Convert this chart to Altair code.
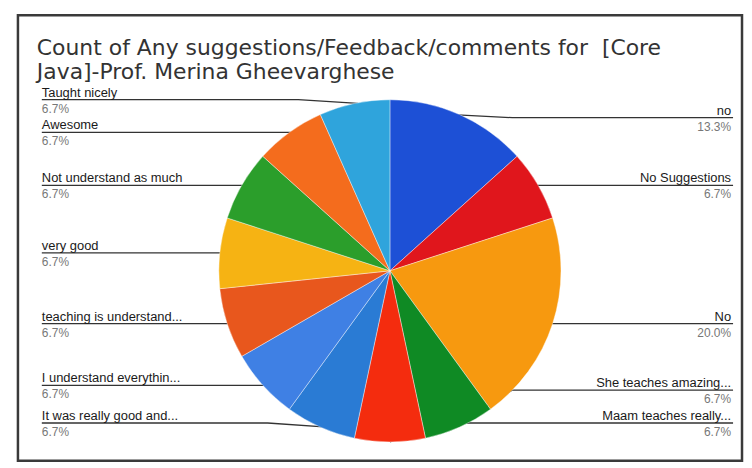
import math
import altair as alt
import pandas as pd

# ---------------- data ----------------
labels = [
    "no", "No Suggestions", "No", "She teaches amazing...", "Maam teaches really...",
    "It was really good and...", "I understand everythin...", "teaching is understand...",
    "very good", "Not understand as much", "Awesome", "Taught nicely",
]
counts = [2, 1, 3, 1, 1, 1, 1, 1, 1, 1, 1, 1]
colors = [
    "#1d50d6", "#e0161c", "#f7990f", "#0f8a24", "#f42c0e", "#2a7bd4",
    "#3f80e4", "#e8571d", "#f6b313", "#2b9e2b", "#f46c1d", "#2fa4dc",
]
title_lines = ["Count of Any suggestions/Feedback/comments for \u00a0[Core",
               "Java]-Prof. Merina Gheevarghese"]

# ---------------- layout (page pixels) ----------------
VX, VY = 16, 12          # view origin on page
W, H = 728, 448
CX, CY, R = 390, 269, 172
TOP, BOT, GAP = 115, 422, 33
LEFT_X, RIGHT_X = 40, 735

total = sum(counts)
rows = []
cum = 0
for i, (lab, c) in enumerate(zip(labels, counts)):
    mid = (cum + c / 2) / total * 2 * math.pi
    cum += c
    ax = CX + R * 0.9 * math.sin(mid)
    ay = CY - R * math.cos(mid)
    side = "R" if mid <= math.pi + 1e-9 else "L"
    rows.append(dict(idx=i, label=lab, count=c, ax=ax, ay=ay, side=side,
                     pct=f"{c / total * 100:.1f}%"))

# resolve label y positions per side
for side in ("R", "L"):
    grp = sorted([r for r in rows if r["side"] == side], key=lambda r: r["ay"])
    for r in grp:
        r["ly"] = min(max(r["ay"], TOP), BOT)
    for k in range(len(grp) - 2, -1, -1):
        grp[k]["ly"] = min(grp[k]["ly"], grp[k + 1]["ly"] - GAP)
    for k in range(1, len(grp)):
        grp[k]["ly"] = max(grp[k]["ly"], grp[k - 1]["ly"] + GAP)

line_pts = []
text_rows = []
for r in rows:
    if r["side"] == "L":
        start = LEFT_X
        elbow = r["ax"] - 60
        tx = LEFT_X
    else:
        start = RIGHT_X
        elbow = r["ax"] + 60
        tx = RIGHT_X - 2
    pts = [(start, r["ly"]), (elbow, r["ly"]), (r["ax"], r["ay"])]
    for o, (px, py) in enumerate(pts):
        line_pts.append(dict(label=r["label"], o=o, x=px - VX, y=py - VY))
    text_rows.append(dict(label=r["label"], pct=r["pct"], side=r["side"],
                          x=tx - VX, y=r["ly"] - VY))

pie_df = pd.DataFrame([{k: r[k] for k in ("idx", "label", "count")} for r in rows])
lines_df = pd.DataFrame(line_pts)
text_df = pd.DataFrame(text_rows)
title_df = pd.DataFrame({"t": title_lines, "x": [35 - VX] * 2, "y": [52 - VY, 76 - VY]})

FONT = "Liberation Sans"

frame = alt.Chart(pd.DataFrame({"f": [0]})).mark_rect(
    fill="white", stroke="#3a3a3a", strokeWidth=2.5
).encode(x=alt.value(0), x2=alt.value(W), y=alt.value(0), y2=alt.value(H))

lines = alt.Chart(lines_df).mark_line(color="#333333", strokeWidth=1.3).encode(
    x=alt.X("x:Q", scale=None, axis=None),
    y=alt.Y("y:Q", scale=None, axis=None),
    detail="label:N",
    order="o:Q",
)

pie = alt.Chart(pie_df).mark_arc(radius=R, stroke="#ffffff", strokeWidth=0.4).encode(
    theta=alt.Theta("count:Q", stack=True),
    color=alt.Color("label:N", scale=alt.Scale(domain=labels, range=colors), legend=None),
    order=alt.Order("idx:Q"),
    x=alt.value(CX - VX),
    y=alt.value(CY - VY),
)

def side_text(side, align):
    d = text_df[text_df["side"] == side]
    base = alt.Chart(d)
    name = base.mark_text(align=align, baseline="alphabetic", dy=-3, font=FONT,
                          fontSize=13, color="#1a1a1a").encode(
        x=alt.X("x:Q", scale=None), y=alt.Y("y:Q", scale=None), text="label:N")
    pct = base.mark_text(align=align, baseline="top", dy=4, font=FONT,
                         fontSize=12, color="#777777").encode(
        x=alt.X("x:Q", scale=None), y=alt.Y("y:Q", scale=None), text="pct:N")
    return name + pct

title = alt.Chart(title_df).mark_text(align="left", baseline="alphabetic",
                                      font="DejaVu Sans", fontSize=22,
                                      color="#333333").encode(
    x=alt.X("x:Q", scale=None), y=alt.Y("y:Q", scale=None), text="t:N")

chart = alt.layer(
    frame, lines, pie, side_text("L", "left"), side_text("R", "right"), title
).properties(
    width=W, height=H,
    padding={"left": VX - 8, "top": VY - 8, "right": 0, "bottom": 0},
).configure_view(stroke=None).configure(background="white")

chart.save("out.html", embed_options={"renderer": "svg", "actions": False})
